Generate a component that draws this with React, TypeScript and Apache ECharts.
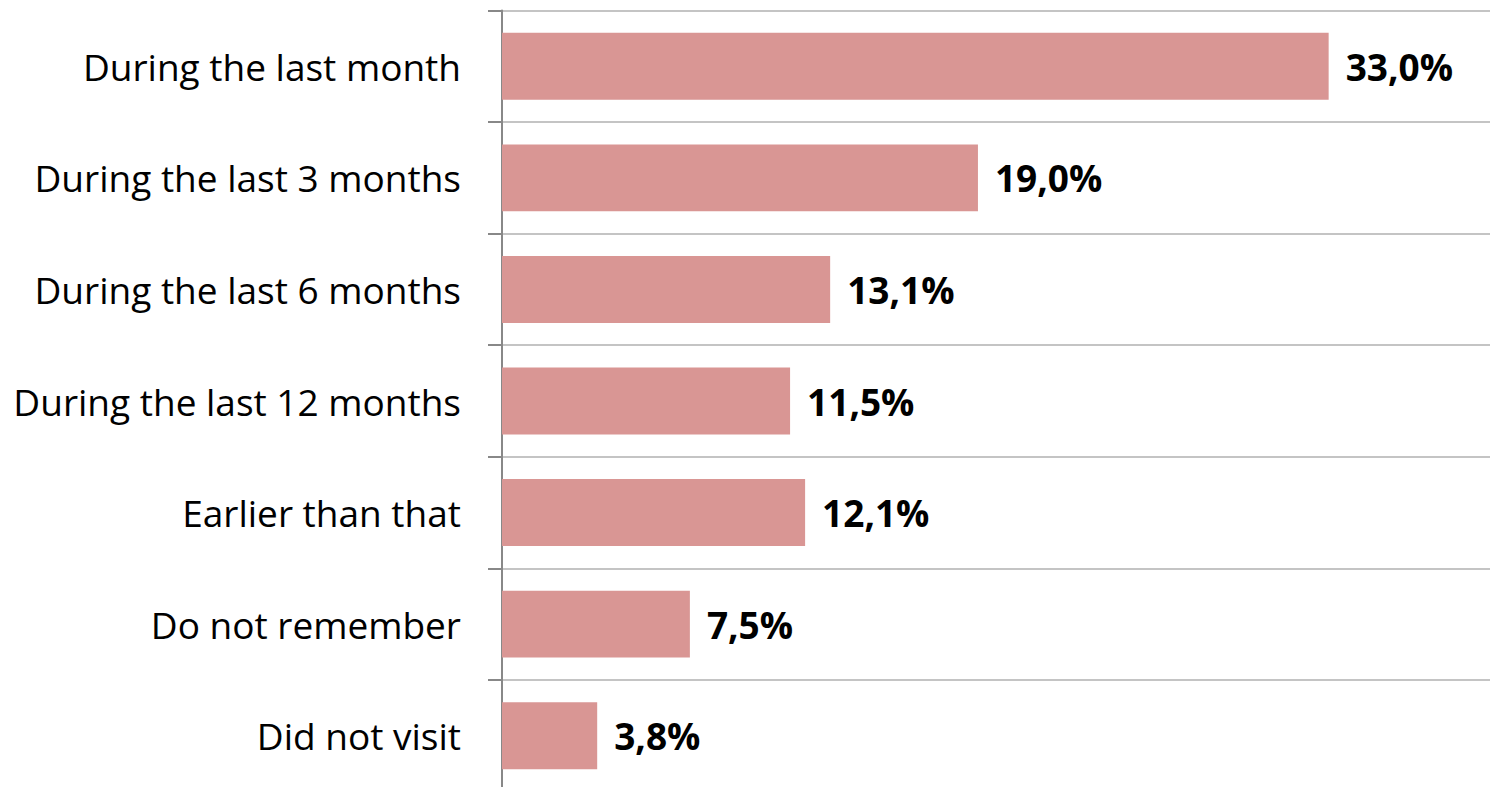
import React, { useEffect, useRef } from "react";
import * as echarts from "echarts";

const categories = [
  "During the last month",
  "During the last 3 months",
  "During the last 6 months",
  "During the last 12 months",
  "Earlier than that",
  "Do not remember",
  "Did not visit",
];
const values = [33.0, 19.0, 13.1, 11.5, 12.1, 7.5, 3.8];
const axisMax = 40;

export default function App() {
  const ref = useRef<HTMLDivElement>(null);
  useEffect(() => {
    document.body.style.margin = "0";
    document.body.style.overflow = "hidden";
    const chart = echarts.init(ref.current!, undefined, { renderer: "svg" });
    chart.setOption({
      animation: false,
      backgroundColor: "#ffffff",
      grid: { left: 502, top: 10.5, width: 1002, height: 781, containLabel: false },
      xAxis: {
        type: "value",
        min: 0,
        max: axisMax,
        show: false,
      },
      yAxis: {
        type: "category",
        data: categories,
        inverse: true,
        axisLine: { show: true, lineStyle: { color: "#888888", width: 2 } },
        axisTick: { show: true, length: 14, lineStyle: { color: "#888888", width: 2 } },
        splitLine: { show: true, lineStyle: { color: "#c4c4c4", width: 2 } },
        axisLabel: {
          margin: 41,
          color: "#000000",
          fontFamily: "Open Sans",
          fontSize: 37,
        },
      },
      series: [
        {
          type: "bar",
          data: values,
          barCategoryGap: "40%",
          itemStyle: { color: "#d99694" },
          label: {
            show: true,
            position: "right",
            distance: 17,
            color: "#000000",
            fontFamily: "Open Sans",
            fontWeight: "bold",
            fontSize: 37,
            formatter: (p: any) => p.value.toFixed(1).replace(".", ",") + "%",
          },
        },
      ],
    });
    return () => chart.dispose();
  }, []);
  return (
    <div style={{ position: "fixed", left: 0, top: 0, width: 1490, height: 787, overflow: "hidden" }}>
      <div ref={ref} style={{ width: 1520, height: 800 }} />
    </div>
  );
}
